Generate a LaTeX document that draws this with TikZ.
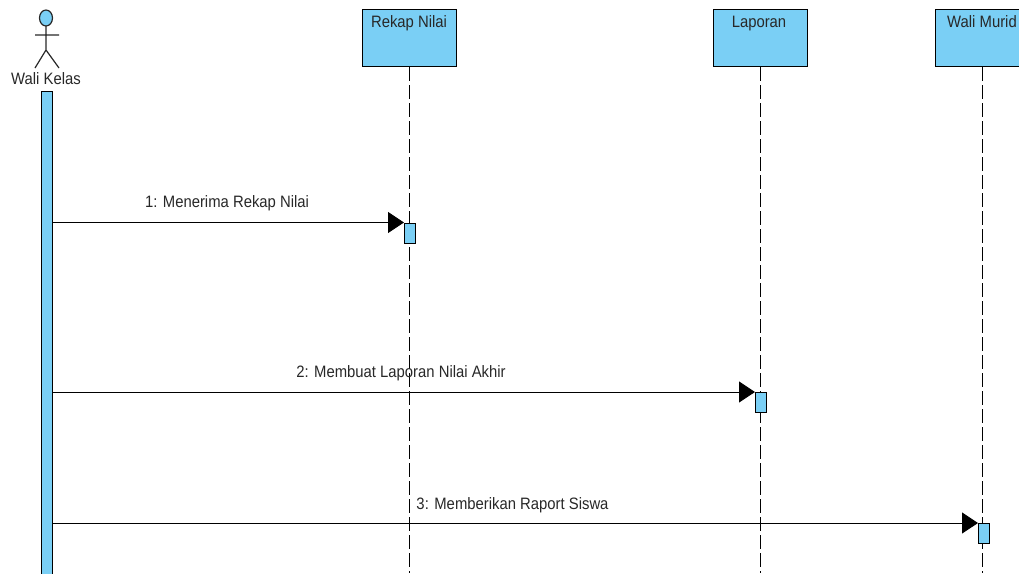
\documentclass[tikz,border=0pt]{standalone}
\usepackage{fontspec}
\setmainfont{Liberation Sans}
\usetikzlibrary{arrows.meta}
\definecolor{fillblue}{RGB}{122,207,245}
\definecolor{inkgrey}{RGB}{40,40,40}
\tikzset{
  lifebox/.style={draw=black,fill=fillblue,line width=1pt,minimum width=94pt,minimum height=57pt,inner sep=0pt},
  bar/.style={draw=black,fill=fillblue,line width=1pt,minimum width=11pt,minimum height=20pt,inner sep=0pt},
  lifeline/.style={line width=1pt,dash pattern=on 14pt off 4pt},
  msg/.style={line width=1pt,-{Triangle[length=16pt,width=21pt]}},
  txt/.style={text=inkgrey,font=\fontsize{16.5}{18}\selectfont,inner sep=0pt,anchor=base},
}
\begin{document}
\begin{tikzpicture}[x=1pt,y=-1pt]
\useasboundingbox(0,0)rectangle(1019,573);
\clip(0,0)rectangle(1019,573);
\fill[white](0,0)rectangle(1019,573);
% actor
\draw[fill=fillblue,line width=1.2pt,draw=inkgrey](46,18)ellipse[x radius=6.5,y radius=8];
\draw[line width=1.2pt,draw=inkgrey](46,26)--(46,50)--(35,68)(46,50)--(59,68)(35,35)--(59,35);
\node[txt](actorlabel)at(46,84){\addfontfeature{FakeStretch=0.9}Wali Kelas};
% lifelines
\node[lifebox](rekap)at(409,38){};
\node[lifebox](laporan)at(760,38){};
\node[lifebox](murid)at(982,38){};
\node[txt](rekaplabel)at(409,27){\addfontfeature{FakeStretch=0.9}Rekap Nilai};
\node[txt](laporanlabel)at(759,27){\addfontfeature{FakeStretch=0.9}Laporan};
\node[txt](muridlabel)at(982,27){\addfontfeature{FakeStretch=0.9}Wali Murid};
\coordinate(rekapend)at(409,573);
\coordinate(laporanend)at(760,573);
\coordinate(muridend)at(982,573);
\draw[lifeline](rekap.south)--(rekapend);
\draw[lifeline](laporan.south)--(laporanend);
\draw[lifeline](murid.south)--(muridend);
% activations
\node[bar,minimum height=490pt,anchor=north](actorbar)at(46.5,91){};
\node[bar,anchor=north](a1)at(410,222.5){};
\node[bar,anchor=north](a2)at(761,392){};
\node[bar,anchor=north](a3)at(984,523){};
% messages
\coordinate(s1)at(52,222.5);
\coordinate(s2)at(52,392);
\coordinate(s3)at(52,523);
\draw[msg](s1)--(a1.north west);
\draw[msg](s2)--(a2.north west);
\draw[msg](s3)--(a3.north west);
\node[txt](m1label)at(227,207){\addfontfeature{FakeStretch=0.9}1: Menerima Rekap Nilai};
\node[txt](m2label)at(401,377){\addfontfeature{FakeStretch=0.9}2: Membuat Laporan Nilai Akhir};
\node[txt](m3label)at(512.5,509){\addfontfeature{FakeStretch=0.9}3: Memberikan Raport Siswa};
\end{tikzpicture}
\end{document}
